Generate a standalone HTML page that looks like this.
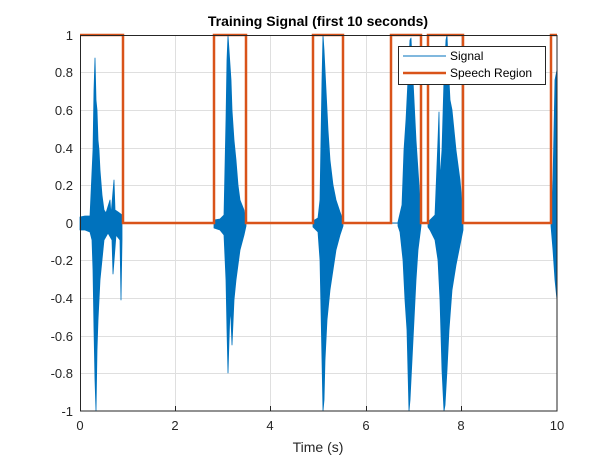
<!DOCTYPE html>
<html><head><style>
body{margin:0;background:#fff;}
svg text{font-family:"Liberation Sans",sans-serif;}
</style></head><body>
<svg width="616" height="462" viewBox="0 0 616 462" xmlns="http://www.w3.org/2000/svg">
<rect width="616" height="462" fill="#fff"/>
<g stroke="#dfdfdf" stroke-width="1">
<line x1="175.5" y1="35" x2="175.5" y2="411"/><line x1="270.5" y1="35" x2="270.5" y2="411"/>
<line x1="366.5" y1="35" x2="366.5" y2="411"/><line x1="461.5" y1="35" x2="461.5" y2="411"/>
<line x1="80" y1="72.5" x2="557" y2="72.5"/><line x1="80" y1="110.5" x2="557" y2="110.5"/>
<line x1="80" y1="148.5" x2="557" y2="148.5"/><line x1="80" y1="185.5" x2="557" y2="185.5"/>
<line x1="80" y1="223.5" x2="557" y2="223.5"/><line x1="80" y1="260.5" x2="557" y2="260.5"/>
<line x1="80" y1="298.5" x2="557" y2="298.5"/><line x1="80" y1="336.5" x2="557" y2="336.5"/>
<line x1="80" y1="373.5" x2="557" y2="373.5"/>
</g>
<g fill="#0072bd" stroke="#0072bd" stroke-width="0.8" stroke-linejoin="round">
<line x1="80" y1="223" x2="557" y2="223" stroke-width="1"/>
<polygon points="80,217 85,216 90,216 93,150 94,90 95,58 96,100 97,110 98,140 99,150 100,170 102,195 104,210 106,213 110,200 111,215 114,180 115,210 118,212 122,215 122,223 122,240 121,300 120,240 116,235 113,274 112,240 108,233 104,240 102,260 100,280 98,320 97,350 96,411 95,380 94,330 93,270 92,240 90,232 85,230 80,230"/>
<polygon points="214,220 220,219 224,215 226,120 227,60 228,35 229,50 230,65 231,80 232,110 234,140 236,160 238,185 240,200 244,210 246,220 246,226 244,235 240,250 238,265 236,280 234,300 232,345 231,320 230,310 229,340 228,373 227,330 226,280 224,235 220,230 214,228"/>
<polygon points="313,221 318,218 320,200 322,80 323,35 324,50 326,90 328,130 330,160 333,185 336,200 340,212 343,220 343,226 340,235 336,250 333,270 330,290 327,320 325,360 324,400 323,411 322,360 320,260 318,232 313,227"/>
<polygon points="398,222 402,205 404,150 406,120 408,80 410,40 411,38 412,60 414,100 416,140 418,170 420,200 421,222 421,226 418,250 416,280 414,320 412,360 410,400 409,411 407,330 405,300 403,260 400,232 398,226"/>
<polygon points="428,222 435,215 438,140 439,112 440,180 442,150 444,80 446,40 447,35 448,60 450,100 452,110 454,130 456,150 460,180 463,215 463,230 460,245 456,265 452,290 449,330 447,370 445,405 444,411 442,370 440,300 438,260 435,240 430,230 428,227"/>
<polygon points="551,222 553,180 555,80 557,70 557,300 555,280 553,250 551,226"/>
</g>
<polyline fill="none" stroke="#d95319" stroke-width="2.5" points="80,35 123,35 123,223 214,223 214,35 246,35 246,223 313,223 313,35 343,35 343,223 391,223 391,35 421,35 421,223 428,223 428,35 463,35 463,223 551,223 551,35 557,35"/>
<rect x="80.5" y="35.5" width="476.5" height="375.5" fill="none" stroke="#262626" stroke-width="1"/>
<g stroke="#262626">
<line x1="80.5" y1="411" x2="80.5" y2="406"/><line x1="175.5" y1="411" x2="175.5" y2="406"/><line x1="270.5" y1="411" x2="270.5" y2="406"/><line x1="366.5" y1="411" x2="366.5" y2="406"/><line x1="461.5" y1="411" x2="461.5" y2="406"/>
</g>
<g font-size="13" fill="#262626" text-anchor="middle">
<text x="80" y="430">0</text><text x="175" y="430">2</text><text x="270" y="430">4</text><text x="366" y="430">6</text><text x="461" y="430">8</text><text x="557" y="430">10</text>
<text x="318" y="452" font-size="14">Time (s)</text>
</g>
<g font-size="13" fill="#262626" text-anchor="end">
<text x="73" y="40">1</text><text x="73" y="77">0.8</text><text x="73" y="115">0.6</text><text x="73" y="153">0.4</text><text x="73" y="190">0.2</text><text x="73" y="228">0</text><text x="73" y="265">-0.2</text><text x="73" y="303">-0.4</text><text x="73" y="341">-0.6</text><text x="73" y="378">-0.8</text><text x="73" y="416">-1</text>
</g>
<text x="318" y="26" font-size="14" font-weight="bold" text-anchor="middle" fill="#000">Training Signal (first 10 seconds)</text>
<rect x="398.5" y="46.5" width="147" height="38" fill="#fff" stroke="#262626"/>
<line x1="403" y1="56" x2="446" y2="56" stroke="#0072bd" stroke-width="1"/>
<line x1="403" y1="73" x2="446" y2="73" stroke="#d95319" stroke-width="2.5"/>
<text x="450" y="60" font-size="12" fill="#000">Signal</text>
<text x="450" y="77" font-size="12" fill="#000">Speech Region</text>
</svg>
</body></html>
